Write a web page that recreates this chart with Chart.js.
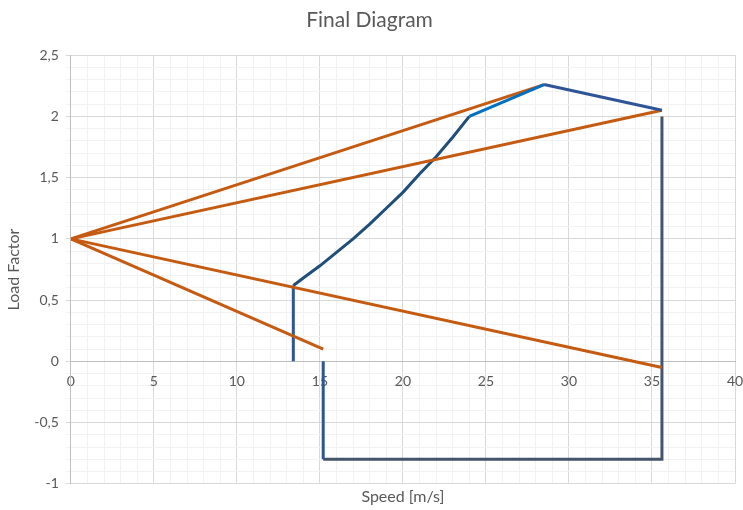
<!DOCTYPE html>
<html>
<head>
<meta charset="utf-8">
<title>Final Diagram</title>
<script src="https://cdn.jsdelivr.net/npm/chart.js@4/dist/chart.umd.min.js"></script>
<style>
  html, body { margin: 0; padding: 0; background: #fff; }
  #wrap { width: 743px; height: 510px; }
</style>
</head>
<body>
<div id="wrap"><canvas id="vnChart"></canvas></div>
<script>
// tick labels
const xTickLabels = [0, 5, 10, 15, 20, 25, 30, 35, 40]
const yTickLabels = [-1, -0.5, 0, 0.5, 1, 1.5, 2, 2.5]

// gust lines, all starting from n = 1 at V = 0
const gustA_V = [0, 28.5]
const gustA_n = [1, 2.26]
const gustB_V = [0, 35.6]
const gustB_n = [1, 2.05]
const gustC_V = [0, 35.6]
const gustC_n = [1, -0.05]
const gustD_V = [0, 15.2]
const gustD_n = [1, 0.1]

// stall boundary
const stallLine_V = [13.4, 13.4]
const stallLine_n = [0, 0.62]
const stallCurve_V = [13.4, 14, 15, 16, 17, 18, 19, 20, 21, 22, 23, 24]
const stallCurve_n = [0.62, 0.68, 0.78, 0.89, 1.0, 1.12, 1.25, 1.38, 1.53, 1.67, 1.83, 2.0]

// envelope
const topRise_V = [24, 28.5]
const topRise_n = [2.0, 2.26]
const topFall_V = [28.5, 35.6]
const topFall_n = [2.26, 2.05]
const diveEdge_V = [35.6, 35.6, 15.2]
const diveEdge_n = [2.0, -0.8, -0.8]
const negEdge_V = [15.2, 15.2]
const negEdge_n = [-0.8, 0]

const ORANGE = '#C55A11'
const textGray = '#595959'
const fontFamily = 'Lato, "Open Sans", sans-serif'

const pts = (xs, ys) => xs.map((x, i) => ({ x: x, y: ys[i] }))

const line = (xs, ys, color, order) => ({
    data: pts(xs, ys),
    borderColor: color,
    backgroundColor: color,
    borderWidth: 3,
    pointRadius: 0,
    showLine: true,
    fill: false,
    tension: 0,
    order: order
})

const isLabel = (list, v) => list.some(t => Math.abs(t - v) < 1e-6)
const fmt = v => String(v).replace('.', ',')

const ctx = document.getElementById('vnChart').getContext('2d')

const vnChart = new Chart(ctx, {
    type: 'scatter',
    data: {
        datasets: [
            line(gustA_V, gustA_n, ORANGE, 2),
            line(gustB_V, gustB_n, ORANGE, 2),
            line(gustC_V, gustC_n, ORANGE, 2),
            line(gustD_V, gustD_n, ORANGE, 2),
            line(stallLine_V, stallLine_n, '#2F5597', 3),
            line(stallCurve_V, stallCurve_n, '#1F4E79', 3),
            line(topRise_V, topRise_n, '#0070C0', 1),
            line(topFall_V, topFall_n, '#2F5597', 1),
            line(diveEdge_V, diveEdge_n, '#44546A', 3),
            line(negEdge_V, negEdge_n, '#2F5597', 3)
        ]
    },
    options: {
        responsive: true,
        maintainAspectRatio: false,
        animation: false,
        layout: {
            padding: { left: 4, right: 8, top: 4, bottom: 2 }
        },
        plugins: {
            legend: { display: false },
            tooltip: { enabled: false },
            title: {
                display: true,
                text: 'Final Diagram',
                color: textGray,
                font: { family: fontFamily, size: 21, weight: 'normal' },
                padding: { top: 4, bottom: 22 }
            }
        },
        scales: {
            // value axis crossing at n = 0
            x: {
                type: 'linear',
                position: { y: 0 },
                min: 0,
                max: 40,
                afterFit: s => { s.height = 0; s.paddingLeft = 0; s.paddingRight = 0 },
                ticks: {
                    stepSize: 1,
                    autoSkip: false,
                    maxRotation: 0,
                    color: textGray,
                    padding: 12,
                    font: { family: fontFamily, size: 14 },
                    callback: v => isLabel(xTickLabels, v) ? fmt(v) : ''
                },
                grid: {
                    color: c => isLabel(xTickLabels, c.tick.value) ? '#D9D9D9' : '#F2F2F2',
                    lineWidth: 1,
                    drawTicks: false
                },
                border: { color: '#BFBFBF', width: 1 }
            },
            // bottom axis only carries the title
            xTitle: {
                type: 'linear',
                axis: 'x',
                position: 'bottom',
                min: 0,
                max: 40,
                ticks: { display: false },
                grid: { display: false, drawTicks: false },
                border: { display: false },
                title: {
                    display: true,
                    text: 'Speed [m/s]',
                    color: textGray,
                    font: { family: fontFamily, size: 16, weight: 'normal' },
                    padding: { top: 3, bottom: 2 }
                }
            },
            y: {
                type: 'linear',
                min: -1,
                max: 2.5,
                ticks: {
                    stepSize: 0.1,
                    autoSkip: false,
                    color: textGray,
                    padding: 7,
                    font: { family: fontFamily, size: 14 },
                    callback: v => isLabel(yTickLabels, v) ? fmt(Math.round(v * 10) / 10) : ''
                },
                grid: {
                    color: c => isLabel(yTickLabels, c.tick.value) ? '#D9D9D9' : '#F2F2F2',
                    lineWidth: 1,
                    drawTicks: true,
                    tickLength: 5
                },
                border: { color: '#BFBFBF', width: 1 },
                title: {
                    display: true,
                    text: 'Load Factor',
                    color: textGray,
                    font: { family: fontFamily, size: 16, weight: 'normal' },
                    padding: { top: 0, bottom: 4 }
                }
            }
        }
    }
})
</script>
</body>
</html>
